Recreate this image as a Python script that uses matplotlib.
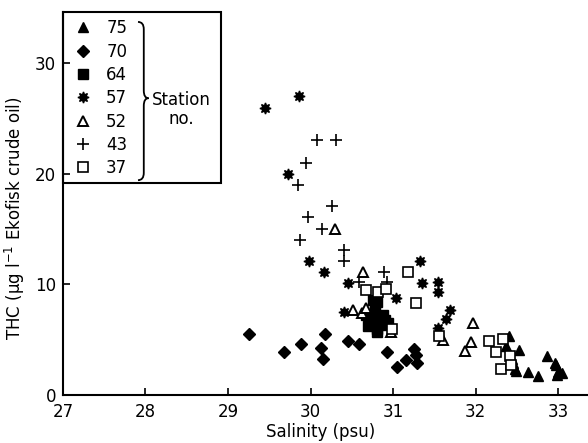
import matplotlib
matplotlib.use("Agg")
import matplotlib.pyplot as plt
from matplotlib.patches import Rectangle, PathPatch
from matplotlib.path import Path

plt.rcParams['font.family'] = ['DejaVu Sans']

# station 75 (filled triangles)
s75_x = [32.40, 32.37, 32.52, 32.45, 32.47, 32.49, 32.63, 32.75, 32.86, 32.96, 32.97, 33.00, 32.98, 33.04, 32.44]
s75_y = [5.3, 4.4, 4.1, 2.9, 2.4, 2.2, 2.1, 1.7, 3.5, 2.9, 2.7, 2.1, 1.8, 2.0, 3.3]
# station 70 (diamonds)
s70_x = [29.25, 29.68, 29.88, 30.18, 30.12, 30.15, 30.45, 30.59, 30.93, 31.05, 31.16, 31.25, 31.28, 31.29]
s70_y = [5.5, 3.9, 4.6, 5.5, 4.3, 3.25, 4.9, 4.6, 3.9, 2.5, 3.2, 4.2, 3.6, 2.9]
# station 64 (filled squares)
s64_x = [30.76, 30.80, 30.72, 30.69, 30.84, 30.90, 30.80, 30.67, 30.78, 30.88, 30.80, 30.73, 30.86, 30.94]
s64_y = [8.6, 8.4, 6.8, 6.2, 7.1, 6.8, 6.0, 7.2, 7.7, 7.2, 5.7, 6.4, 6.3, 6.5]
# station 57 (stars)
s57_x = [29.45, 29.86, 29.73, 29.98, 30.16, 30.45, 31.04, 30.41, 31.33, 31.35, 31.54, 31.54, 31.69, 31.64, 31.54]
s57_y = [25.9, 27.0, 19.95, 12.1, 11.1, 10.1, 8.8, 7.5, 12.1, 10.15, 10.25, 9.35, 7.7, 6.85, 6.1]
# station 52 (open triangles)
s52_x = [30.29, 30.64, 30.51, 30.62, 30.67, 30.97, 31.60, 31.97, 31.94, 31.87]
s52_y = [15.0, 11.1, 7.7, 7.4, 7.85, 5.7, 5.0, 6.5, 4.8, 4.0]
# station 43 (plus)
s43_x = [30.08, 30.31, 29.95, 29.85, 30.26, 29.97, 30.14, 29.87, 30.41, 30.40, 30.89, 30.59, 30.93]
s43_y = [23.0, 23.0, 21.0, 19.0, 17.1, 16.1, 15.0, 14.0, 13.1, 12.1, 11.15, 10.25, 10.2]
# station 37 (open squares)
s37_x = [30.67, 30.82, 30.91, 31.18, 31.28, 31.56, 30.98, 32.16, 32.24, 32.33, 32.31, 32.41, 32.43]
s37_y = [9.5, 9.3, 9.6, 11.15, 8.35, 5.35, 6.0, 4.9, 3.9, 5.1, 2.4, 3.5, 2.7]

xticks = [27, 28, 29, 30, 31, 32, 33]
yticks = [0, 10, 20, 30]

fig = plt.figure(figsize=(5.88, 4.43), dpi=100)
ax = fig.add_axes([0.107, 0.108, 0.893, 0.865])

k = dict(linestyle='none', color='black')
ax.plot(s75_x, s75_y, marker='^', ms=7, label='75', **k)
ax.plot(s70_x, s70_y, marker='D', ms=6.3, label='70', **k)
ax.plot(s64_x, s64_y, marker='s', ms=6.5, label='64', **k)
ax.plot(s57_x, s57_y, marker=(8, 1, 0), ms=8, label='57', **k)
ax.plot(s52_x, s52_y, marker='^', ms=7, mfc='white', mew=1.4, label='52', **k)
ax.plot(s43_x, s43_y, marker='+', ms=9, mew=1.2, label='43', **k)
ax.plot(s37_x, s37_y, marker='s', ms=6.5, mfc='white', mew=1.2, label='37', **k)

ax.set_xlim(27, 33.36)
ax.set_ylim(0, 34.6)
ax.set_xticks(xticks)
ax.set_yticks(yticks)
ax.tick_params(direction='in', length=5, width=1.2, labelsize=12)
ax.tick_params(axis='x', pad=6)
ax.tick_params(axis='y', pad=5)
for s in ['top', 'right']:
    ax.spines[s].set_visible(False)
for s in ['left', 'bottom']:
    ax.spines[s].set_linewidth(1.5)

ax.set_xlabel('Salinity (psu)', fontsize=12)
ax.xaxis.set_label_coords(0.49, -0.072)
ax.set_ylabel('THC (µg l$^{-1}$ Ekofisk crude oil)', fontsize=12)
ax.yaxis.set_label_coords(-0.069, 0.462)

leg = ax.legend(loc='upper left', bbox_to_anchor=(0.022, 0.981), frameon=False,
                fontsize=12, handlelength=1.0, handletextpad=0.9,
                labelspacing=0.32, borderpad=0, borderaxespad=0)

ax.add_patch(Rectangle((0, 0.554), 0.302, 0.446, transform=ax.transAxes,
                       fill=False, lw=1.5, ec='black', clip_on=False))

verts = [(0.143, 0.974), (0.154, 0.974), (0.154, 0.955),
         (0.154, 0.795),
         (0.154, 0.775), (0.163, 0.775),
         (0.154, 0.775), (0.154, 0.755),
         (0.154, 0.580),
         (0.154, 0.561), (0.143, 0.561)]
codes = [Path.MOVETO, Path.CURVE3, Path.CURVE3, Path.LINETO,
         Path.CURVE3, Path.CURVE3, Path.CURVE3, Path.CURVE3,
         Path.LINETO, Path.CURVE3, Path.CURVE3]
ax.add_patch(PathPatch(Path(verts, codes), transform=ax.transAxes,
                       fill=False, lw=1.3, ec='black', clip_on=False))
ax.text(0.225, 0.745, 'Station\nno.', transform=ax.transAxes, fontsize=12,
        ha='center', va='center', multialignment='center', linespacing=1.1)

fig.savefig('out.png', dpi=100)
